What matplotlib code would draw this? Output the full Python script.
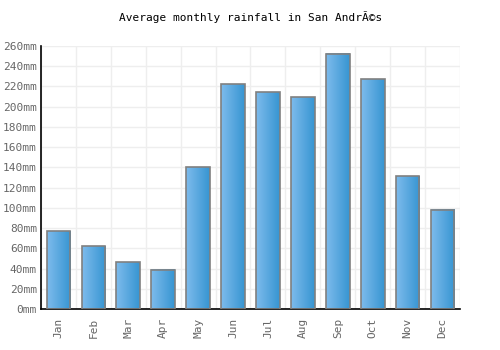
import numpy as np
import matplotlib.pyplot as plt
from matplotlib.colors import LinearSegmentedColormap

months = ['Jan', 'Feb', 'Mar', 'Apr', 'May', 'Jun', 'Jul', 'Aug', 'Sep', 'Oct', 'Nov', 'Dec']
rain = [77, 62, 46, 39, 140, 222, 214, 209, 252, 227, 131, 98]
yticks = list(range(0, 261, 20))

plt.rc('font', family='DejaVu Sans Mono')
fig = plt.figure(figsize=(5, 3.5), dpi=100)
ax = fig.add_axes([0.082, 0.117, 0.838, 0.752])

cmap = LinearSegmentedColormap.from_list('b', ['#7dbbec', '#3795d2'])
grad = np.linspace(0, 1, 64).reshape(1, -1)
w = 0.68
x = np.arange(len(months))
for xi, v in zip(x, rain):
    ax.imshow(grad, cmap=cmap, extent=[xi - w/2, xi + w/2, 0, v], aspect='auto', zorder=2)
ax.bar(x, rain, width=w, facecolor='none', edgecolor='#808080', linewidth=1.2, zorder=3)

ax.set_xlim(-0.5, len(months) - 0.5)
ax.set_ylim(0, 260)
ax.set_yticks(yticks)
ax.set_yticklabels([f'{t}mm' for t in yticks])
ax.set_xticks(x)
ax.set_xticklabels(months, rotation=90)
ax.set_xticks(np.arange(-0.5, len(months)), minor=True)
ax.grid(True, which='minor', axis='x', color='#eeeeee', lw=1, zorder=0)
ax.grid(True, which='major', axis='y', color='#eeeeee', lw=1, zorder=0)
ax.tick_params(which='both', length=0, labelsize=8, colors='#666666')
ax.tick_params(axis='y', pad=3)
ax.tick_params(axis='x', pad=6)
for s in ['top', 'right']:
    ax.spines[s].set_visible(False)
for s in ['left', 'bottom']:
    ax.spines[s].set_linewidth(1.2)
ax.set_title('Average monthly rainfall in San AndrÃ©s', fontsize=8, pad=18)

fig.savefig('out.png')
